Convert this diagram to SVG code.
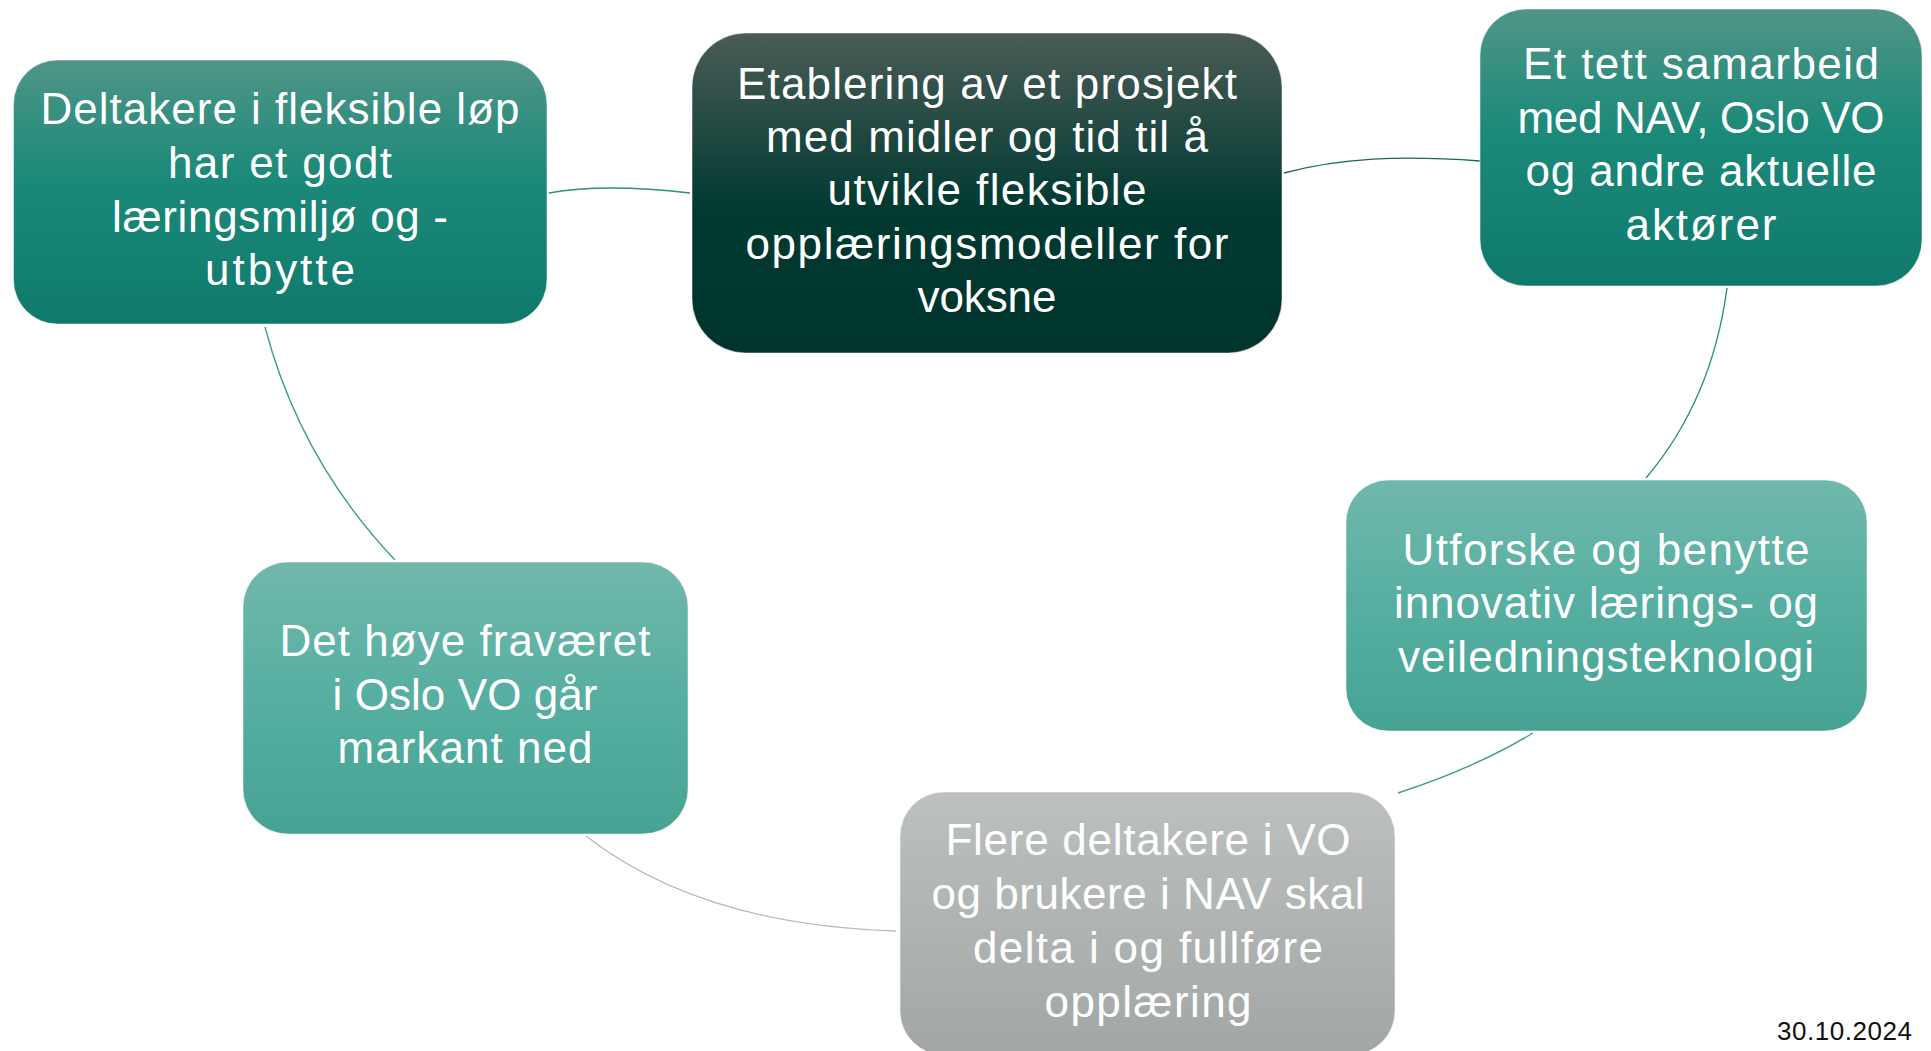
<svg xmlns="http://www.w3.org/2000/svg" width="1931" height="1051" viewBox="0 0 1931 1051">
  <defs>
    <linearGradient id="gTeal" x1="0" y1="0" x2="0" y2="1">
      <stop offset="0" stop-color="#4f9587"/>
      <stop offset="0.45" stop-color="#1b8979"/>
      <stop offset="1" stop-color="#0f7a6c"/>
    </linearGradient>
    <linearGradient id="gDark" x1="0" y1="0" x2="0" y2="1">
      <stop offset="0" stop-color="#4a5b56"/>
      <stop offset="0.55" stop-color="#003a31"/>
      <stop offset="1" stop-color="#00342c"/>
    </linearGradient>
    <linearGradient id="gLight" x1="0" y1="0" x2="0" y2="1">
      <stop offset="0" stop-color="#70b8ab"/>
      <stop offset="0.5" stop-color="#56afa1"/>
      <stop offset="1" stop-color="#46a394"/>
    </linearGradient>
    <linearGradient id="gGray" x1="0" y1="0" x2="0" y2="1">
      <stop offset="0" stop-color="#bcc1c0"/>
      <stop offset="1" stop-color="#a2a7a6"/>
    </linearGradient>
  </defs>
  <style>
    .box { stroke: #ffffff; stroke-opacity: 0.5; stroke-width: 1; }
    .lbl { font-family: "Liberation Sans", Arial, sans-serif; font-size: 44px; fill: #ffffff; text-anchor: middle; }
    .conn { fill: none; stroke-width: 1.4; }
    .date { font-family: "Liberation Sans", Arial, sans-serif; font-size: 26px; fill: #111111; }
  </style>
  <rect width="1931" height="1051" fill="#ffffff"/>

  <g id="connectors">
    <path class="conn" stroke="#2b9181" d="M549,193 Q604,183 690,193"/>
    <path class="conn" stroke="#14685d" d="M1284,173 C1340,158 1400,155 1480,161"/>
    <path class="conn" stroke="#2b9181" d="M1727,288 Q1712,400 1646,478"/>
    <path class="conn" stroke="#3c9f90" d="M1533,733 Q1475,768 1398,793"/>
    <path class="conn" stroke="#b7bbba" d="M586,836 Q700,925 896,931"/>
    <path class="conn" stroke="#3c9f90" d="M265,327 Q300,460 395,560"/>
  </g>

  <g id="node1">
    <rect class="box" x="13.5" y="60" width="533.5" height="264" rx="44" fill="url(#gTeal)"/>
    <text class="lbl" x="280" y="124" textLength="479" lengthAdjust="spacing">Deltakere i fleksible løp</text>
    <text class="lbl" x="280" y="178" textLength="224" lengthAdjust="spacing">har et godt</text>
    <text class="lbl" x="280" y="232" textLength="336" lengthAdjust="spacing">læringsmiljø og -</text>
    <text class="lbl" x="280" y="285" textLength="150" lengthAdjust="spacing">utbytte</text>
  </g>

  <g id="node2">
    <rect class="box" x="692" y="33" width="590" height="320" rx="54" fill="url(#gDark)"/>
    <text class="lbl" x="987" y="99" textLength="500" lengthAdjust="spacing">Etablering av et prosjekt</text>
    <text class="lbl" x="987" y="152" textLength="442" lengthAdjust="spacing">med midler og tid til å</text>
    <text class="lbl" x="987" y="205" textLength="319" lengthAdjust="spacing">utvikle fleksible</text>
    <text class="lbl" x="987" y="259" textLength="483" lengthAdjust="spacing">opplæringsmodeller for</text>
    <text class="lbl" x="987" y="312" textLength="139" lengthAdjust="spacing">voksne</text>
  </g>

  <g id="node3">
    <rect class="box" x="1480" y="9" width="442" height="277" rx="46" fill="url(#gTeal)"/>
    <text class="lbl" x="1701" y="79" textLength="356" lengthAdjust="spacing">Et tett samarbeid</text>
    <text class="lbl" x="1701" y="133" textLength="367" lengthAdjust="spacing">med NAV, Oslo VO</text>
    <text class="lbl" x="1701" y="186" textLength="351" lengthAdjust="spacing">og andre aktuelle</text>
    <text class="lbl" x="1701" y="240" textLength="151" lengthAdjust="spacing">aktører</text>
  </g>

  <g id="node4">
    <rect class="box" x="1346" y="480" width="521" height="251" rx="42" fill="url(#gLight)"/>
    <text class="lbl" x="1606" y="565" textLength="407" lengthAdjust="spacing">Utforske og benytte</text>
    <text class="lbl" x="1606" y="618" textLength="424" lengthAdjust="spacing">innovativ lærings- og</text>
    <text class="lbl" x="1606" y="672" textLength="416" lengthAdjust="spacing">veiledningsteknologi</text>
  </g>

  <g id="node5">
    <rect class="box" x="900" y="792" width="495" height="263" rx="44" fill="url(#gGray)"/>
    <text class="lbl" x="1148" y="855" textLength="405" lengthAdjust="spacing">Flere deltakere i VO</text>
    <text class="lbl" x="1148" y="909" textLength="433" lengthAdjust="spacing">og brukere i NAV skal</text>
    <text class="lbl" x="1148" y="963" textLength="350" lengthAdjust="spacing">delta i og fullføre</text>
    <text class="lbl" x="1148" y="1017" textLength="207" lengthAdjust="spacing">opplæring</text>
  </g>

  <g id="node6">
    <rect class="box" x="243" y="562" width="445" height="272" rx="45" fill="url(#gLight)"/>
    <text class="lbl" x="465" y="656" textLength="371" lengthAdjust="spacing">Det høye fraværet</text>
    <text class="lbl" x="465" y="710" textLength="265" lengthAdjust="spacing">i Oslo VO går</text>
    <text class="lbl" x="465" y="763" textLength="255" lengthAdjust="spacing">markant ned</text>
  </g>

  <text class="date" x="1777" y="1040" textLength="135" lengthAdjust="spacing">30.10.2024</text>
</svg>
